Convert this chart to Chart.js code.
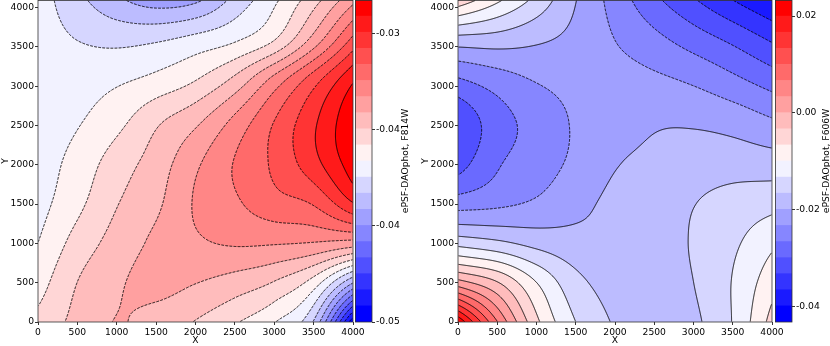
<!DOCTYPE html>
<html>
<head>
<meta charset="utf-8">
<script src="https://cdn.jsdelivr.net/npm/chart.js@4.4.1/dist/chart.umd.min.js"></script>
<style>
  body { margin: 0; background: #fff; }
  #wrap { position: relative; width: 830px; height: 346px; overflow: hidden; }
  canvas { position: absolute; top: 0; }
</style>
</head>
<body>
<div id="wrap">
  <canvas id="leftMap" width="400" height="346" style="left:0"></canvas>
  <canvas id="leftBar" width="60" height="346" style="left:355px"></canvas>
  <canvas id="rightMap" width="400" height="346" style="left:420px"></canvas>
  <canvas id="rightBar" width="55" height="346" style="left:775px"></canvas>
</div>
<script>
// sample positions of the maps (detector pixels)
const GRID_X = [0, 500, 1000, 1500, 2000, 2500, 3000, 3500, 4000];
const GRID_Y = [0, 512, 1024, 1536, 2048, 2560, 3072, 3584, 4096];
const X_TICKS = [0, 500, 1000, 1500, 2000, 2500, 3000, 3500, 4000];
const Y_TICKS = [0, 500, 1000, 1500, 2000, 2500, 3000, 3500, 4000];

// ePSF - DAOphot, F814W (rows go from Y=0 up to Y=4096)
const F814W = [
  [-0.03740, -0.03629, -0.03547, -0.03595, -0.03668, -0.03762, -0.03879, -0.04119, -0.04978],
  [-0.03824, -0.03662, -0.03567, -0.03517, -0.03545, -0.03595, -0.03665, -0.03818, -0.04197],
  [-0.03887, -0.03733, -0.03619, -0.03528, -0.03456, -0.03422, -0.03422, -0.03433, -0.03461],
  [-0.03930, -0.03805, -0.03671, -0.03575, -0.03428, -0.03342, -0.03253, -0.03194, -0.02982],
  [-0.03946, -0.03845, -0.03723, -0.03614, -0.03464, -0.03322, -0.03194, -0.03027, -0.02815],
  [-0.03952, -0.03896, -0.03810, -0.03684, -0.03578, -0.03411, -0.03216, -0.03015, -0.02787],
  [-0.03952, -0.03935, -0.03902, -0.03852, -0.03774, -0.03629, -0.03394, -0.03149, -0.02893],
  [-0.03946, -0.03997, -0.04024, -0.04008, -0.03958, -0.03896, -0.03774, -0.03506, -0.03183],
  [-0.03941, -0.04075, -0.04197, -0.04275, -0.04242, -0.04075, -0.03907, -0.03707, -0.03472]
];

// ePSF - DAOphot, F606W
const F606W = [
  [ 0.02297,  0.00687, -0.00575, -0.01322, -0.01687, -0.01870, -0.01720, -0.01305, -0.00542],
  [ 0.00106, -0.00326, -0.01000, -0.01554, -0.01787, -0.01853, -0.01654, -0.01305, -0.00791],
  [-0.01488, -0.01621, -0.01787, -0.01886, -0.01920, -0.01853, -0.01621, -0.01388, -0.01073],
  [-0.02517, -0.02418, -0.02285, -0.02086, -0.01920, -0.01837, -0.01671, -0.01538, -0.01455],
  [-0.03148, -0.02700, -0.02484, -0.02252, -0.02019, -0.01903, -0.01837, -0.01820, -0.01853],
  [-0.03248, -0.02799, -0.02517, -0.02285, -0.02185, -0.02036, -0.02036, -0.02119, -0.02285],
  [-0.02700, -0.02484, -0.02301, -0.02218, -0.02202, -0.02252, -0.02368, -0.02567, -0.02799],
  [-0.01803, -0.01820, -0.01936, -0.02086, -0.02318, -0.02550, -0.02799, -0.03048, -0.03347],
  [-0.00426, -0.00924, -0.01422, -0.01976, -0.02451, -0.02902, -0.03281, -0.03646, -0.03978]
];

const F814W_RANGE = [-0.05, -0.0277];
const F606W_RANGE = [-0.0431, 0.0233];
const F814W_CB_TICKS = [-0.05, -0.04333, -0.03667, -0.03];
const F606W_CB_TICKS = [-0.04, -0.02, 0, 0.02];
const N_BANDS = 20;

Chart.defaults.font.family = "'DejaVu Sans', sans-serif";
Chart.defaults.font.size = 9.2;
Chart.defaults.color = '#000';

function levelsFor(range) {
  const out = [];
  for (let i = 0; i <= N_BANDS; i++) out.push(range[0] + (range[1] - range[0]) * i / N_BANDS);
  return out;
}

function bwr(t) {
  const k = Math.min(255, Math.floor(t * 256)) / 255;
  let r, g, b;
  if (k < 0.5) { r = g = 2 * k; b = 1; } else { r = 1; g = b = 2 - 2 * k; }
  return [Math.round(r * 255), Math.round(g * 255), Math.round(b * 255)];
}
const BAND_RGB = Array.from({ length: N_BANDS }, (_, i) => bwr(i / (N_BANDS - 1)));
const BAND_CSS = BAND_RGB.map(c => `rgb(${c[0]},${c[1]},${c[2]})`);

// catmull-rom weights
function crWeights(t) {
  const t2 = t * t, t3 = t2 * t;
  return [0.5 * (-t + 2 * t2 - t3), 0.5 * (2 - 5 * t2 + 3 * t3), 0.5 * (t + 4 * t2 - 3 * t3), 0.5 * (t3 - t2)];
}

function padGrid(g) {
  const rows = g.map(r => [2 * r[0] - r[1], ...r, 2 * r[r.length - 1] - r[r.length - 2]]);
  const n = rows.length;
  return [rows[0].map((v, i) => 2 * v - rows[1][i]), ...rows, rows[n - 1].map((v, i) => 2 * v - rows[n - 2][i])];
}

function axisWeights(val, grid) {
  const dx = grid[1] - grid[0];
  const g = (val - grid[0]) / dx;
  const i = Math.min(Math.max(Math.floor(g), 0), grid.length - 2);
  return { i: i, w: crWeights(g - i) };
}

function computeField(chart, values) {
  const a = chart.chartArea, xs = chart.scales.x, ys = chart.scales.y;
  const w = Math.round(a.right - a.left), h = Math.round(a.bottom - a.top);
  const P = padGrid(values);
  const cols = [], rows = [];
  for (let i = 0; i < w; i++) cols.push(axisWeights(xs.getValueForPixel(a.left + i + 0.5), GRID_X));
  for (let j = 0; j < h; j++) rows.push(axisWeights(ys.getValueForPixel(a.top + j + 0.5), GRID_Y));
  const f = new Float32Array(w * h);
  const nc = P[0].length;
  const comb = new Float64Array(nc);
  for (let j = 0; j < h; j++) {
    const ry = rows[j];
    for (let c = 0; c < nc; c++) {
      comb[c] = ry.w[0] * P[ry.i][c] + ry.w[1] * P[ry.i + 1][c] + ry.w[2] * P[ry.i + 2][c] + ry.w[3] * P[ry.i + 3][c];
    }
    for (let i = 0; i < w; i++) {
      const cx = cols[i];
      f[j * w + i] = cx.w[0] * comb[cx.i] + cx.w[1] * comb[cx.i + 1] + cx.w[2] * comb[cx.i + 2] + cx.w[3] * comb[cx.i + 3];
    }
  }
  return { f: f, w: w, h: h };
}

// marching squares, segments chained into polylines
function traceLevel(f, nx, ny, L) {
  const H = (nx - 1) * ny;
  const total = H + nx * (ny - 1);
  const adjA = new Int32Array(total).fill(-1), adjB = new Int32Array(total).fill(-1);
  const link = (e1, e2) => {
    if (adjA[e1] < 0) adjA[e1] = e2; else adjB[e1] = e2;
    if (adjA[e2] < 0) adjA[e2] = e1; else adjB[e2] = e1;
  };
  for (let j = 0; j < ny - 1; j++) {
    for (let i = 0; i < nx - 1; i++) {
      const a = f[j * nx + i], b = f[j * nx + i + 1], c = f[(j + 1) * nx + i + 1], d = f[(j + 1) * nx + i];
      const code = (a >= L ? 8 : 0) | (b >= L ? 4 : 0) | (c >= L ? 2 : 0) | (d >= L ? 1 : 0);
      if (code === 0 || code === 15) continue;
      const T = j * (nx - 1) + i, B = (j + 1) * (nx - 1) + i, Lf = H + j * nx + i, R = Lf + 1;
      const mid = (a + b + c + d) / 4 >= L;
      switch (code) {
        case 1: case 14: link(Lf, B); break;
        case 2: case 13: link(B, R); break;
        case 3: case 12: link(Lf, R); break;
        case 4: case 11: link(T, R); break;
        case 6: case 9: link(T, B); break;
        case 7: case 8: link(Lf, T); break;
        case 5:
          if (mid) { link(Lf, T); link(B, R); } else { link(T, R); link(Lf, B); }
          break;
        case 10:
          if (mid) { link(T, R); link(Lf, B); } else { link(Lf, T); link(B, R); }
          break;
      }
    }
  }
  const pt = (e) => {
    if (e < H) {
      const j = Math.floor(e / (nx - 1)), i = e - j * (nx - 1);
      const va = f[j * nx + i], vb = f[j * nx + i + 1];
      return [i + (L - va) / (vb - va), j];
    }
    const k = e - H, j = Math.floor(k / nx), i = k - j * nx;
    const va = f[j * nx + i], vb = f[(j + 1) * nx + i];
    return [i, j + (L - va) / (vb - va)];
  };
  const seen = new Uint8Array(total);
  const paths = [];
  const walk = (s) => {
    const path = [];
    let cur = s;
    while (cur >= 0 && !seen[cur]) {
      seen[cur] = 1;
      const p = pt(cur);
      path.push(p[0], p[1]);
      let nxt = -1;
      if (adjA[cur] >= 0 && !seen[adjA[cur]]) nxt = adjA[cur];
      else if (adjB[cur] >= 0 && !seen[adjB[cur]]) nxt = adjB[cur];
      if (nxt < 0 && path.length > 4 && (adjA[cur] === s || adjB[cur] === s)) path.push(path[0], path[1]);
      cur = nxt;
    }
    if (path.length >= 4) paths.push(path);
  };
  for (let e = 0; e < total; e++) if (adjA[e] >= 0 && adjB[e] < 0 && !seen[e]) walk(e);
  for (let e = 0; e < total; e++) if (adjA[e] >= 0 && !seen[e]) walk(e);
  return paths;
}

function makeFieldPlugin(values, range, solidFrom) {
  const levels = levelsFor(range);
  const step = (range[1] - range[0]) / N_BANDS;
  return {
    id: 'contourField',
    beforeDatasetsDraw(chart) {
      const ctx = chart.ctx, a = chart.chartArea;
      const fld = computeField(chart, values);
      const img = ctx.createImageData(fld.w, fld.h);
      for (let k = 0; k < fld.w * fld.h; k++) {
        let b = Math.floor((fld.f[k] - range[0]) / step);
        b = Math.min(Math.max(b, 0), N_BANDS - 1);
        const c = BAND_RGB[b];
        img.data[4 * k] = c[0]; img.data[4 * k + 1] = c[1]; img.data[4 * k + 2] = c[2]; img.data[4 * k + 3] = 255;
      }
      ctx.putImageData(img, Math.round(a.left), Math.round(a.top));

      ctx.save();
      ctx.beginPath();
      ctx.rect(a.left, a.top, a.right - a.left, a.bottom - a.top);
      ctx.clip();
      ctx.strokeStyle = '#000';
      ctx.lineWidth = 0.9;
      ctx.lineJoin = 'round';
      for (let k = 1; k < N_BANDS; k++) {
        const paths = traceLevel(fld.f, fld.w, fld.h, levels[k]);
        ctx.setLineDash(k >= solidFrom ? [] : [2.8, 1.3]);
        ctx.beginPath();
        paths.forEach(p => {
          ctx.moveTo(a.left + p[0] + 0.5, a.top + p[1] + 0.5);
          for (let q = 2; q < p.length; q += 2) ctx.lineTo(a.left + p[q] + 0.5, a.top + p[q + 1] + 0.5);
        });
        ctx.stroke();
      }
      ctx.restore();

      ctx.save();
      ctx.strokeStyle = '#333';
      ctx.lineWidth = 0.8;
      ctx.strokeRect(a.left, a.top + 0.4, a.right - a.left, a.bottom - a.top - 0.4);
      ctx.restore();
    }
  };
}

function mapChart(id, values, range, solidFrom, padRight) {
  return new Chart(document.getElementById(id), {
    type: 'scatter',
    data: { datasets: [] },
    options: {
      animation: false,
      responsive: false,
      devicePixelRatio: 1,
      layout: { padding: { left: 0, right: padRight, top: 0, bottom: 0 } },
      plugins: { legend: { display: false }, tooltip: { enabled: false } },
      scales: {
        x: {
          type: 'linear', min: 0, max: 4000,
          afterBuildTicks: s => { s.ticks = X_TICKS.map(v => ({ value: v })); },
          afterFit: s => { s.height = 24; s.paddingLeft = 0; s.paddingRight = 0; },
          ticks: { callback: v => String(v), padding: 2, maxRotation: 0, autoSkip: false },
          grid: { drawOnChartArea: false, tickLength: 3, color: '#000', tickWidth: 0.8 },
          border: { display: false },
          title: { display: true, text: 'X', padding: 0 }
        },
        y: {
          type: 'linear', min: 0, max: 4096,
          afterBuildTicks: s => { s.ticks = Y_TICKS.map(v => ({ value: v })); },
          afterFit: s => { s.width = 38; s.paddingTop = 0; s.paddingBottom = 0; },
          ticks: { callback: v => String(v), padding: 1, autoSkip: false },
          grid: { drawOnChartArea: false, tickLength: 3, color: '#000', tickWidth: 0.8 },
          border: { display: false },
          title: { display: true, text: 'Y', padding: 0 }
        }
      }
    },
    plugins: [makeFieldPlugin(values, range, solidFrom)]
  });
}

function colorbarChart(id, range, ticks, label, axisWidth, labelX) {
  const levels = levelsFor(range);
  return new Chart(document.getElementById(id), {
    type: 'bar',
    data: {
      labels: [''],
      datasets: BAND_CSS.map((c, i) => ({
        data: [[levels[i], levels[i + 1]]],
        backgroundColor: c,
        borderWidth: 0,
        barPercentage: 1,
        categoryPercentage: 1
      }))
    },
    options: {
      animation: false,
      responsive: false,
      devicePixelRatio: 1,
      layout: { padding: { left: 0, right: 0, top: 0, bottom: 24 } },
      plugins: { legend: { display: false }, tooltip: { enabled: false } },
      scales: {
        x: { display: false, stacked: true },
        y: {
          position: 'right', min: range[0], max: range[1], stacked: false,
          afterBuildTicks: s => { s.ticks = ticks.map(v => ({ value: v })); },
          afterFit: s => { s.width = axisWidth; s.paddingTop = 0; s.paddingBottom = 0; },
          ticks: { callback: v => v.toFixed(2), padding: 1, autoSkip: false },
          grid: { drawOnChartArea: false, tickLength: 3, color: '#000', tickWidth: 0.8 },
          border: { display: false }
        }
      }
    },
    plugins: [{
      id: 'cbFrame',
      afterDatasetsDraw(chart) {
        const ctx = chart.ctx, a = chart.chartArea;
        ctx.save();
        ctx.strokeStyle = '#333';
        ctx.lineWidth = 0.8;
        ctx.strokeRect(a.left + 0.4, a.top + 0.4, a.right - a.left - 0.4, a.bottom - a.top - 0.4);
        ctx.translate(labelX, (a.top + a.bottom) / 2);
        ctx.rotate(-Math.PI / 2);
        ctx.font = "9.2px 'DejaVu Sans', sans-serif";
        ctx.fillStyle = '#000';
        ctx.textAlign = 'center';
        ctx.textBaseline = 'middle';
        ctx.fillText(label, 0, 0);
        ctx.restore();
      }
    }]
  });
}

mapChart('leftMap', F814W, F814W_RANGE, 18, 47);
colorbarChart('leftBar', F814W_RANGE, F814W_CB_TICKS, 'ePSF-DAOphot, F814W', 43, 51);
mapChart('rightMap', F606W, F606W_RANGE, 7, 48);
colorbarChart('rightBar', F606W_RANGE, F606W_CB_TICKS, 'ePSF-DAOphot, F606W', 38, 51.5);
</script>
</body>
</html>
